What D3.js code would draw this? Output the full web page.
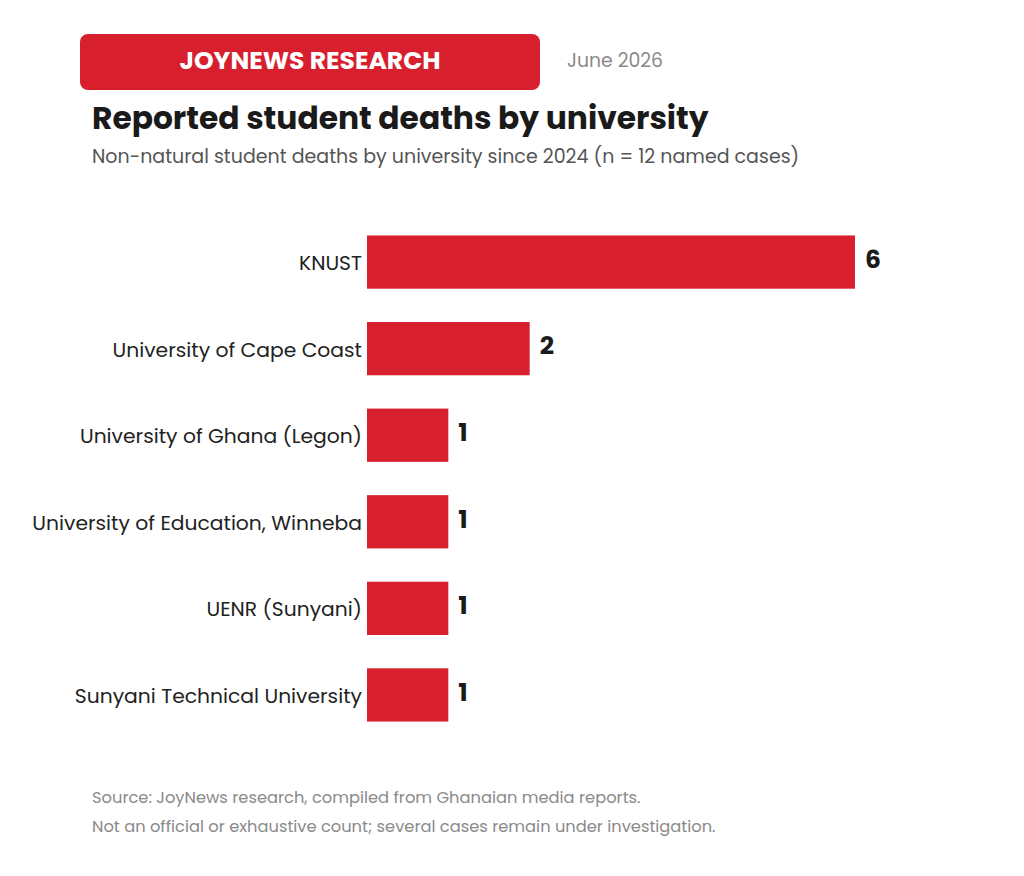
<!DOCTYPE html>
<html>
<head>
<meta charset="utf-8">
<script src="https://cdn.jsdelivr.net/npm/d3@7"></script>
<style>
    body { margin: 0; background: #ffffff; }
    svg { display: block; font-family: Poppins, "Open Sans", sans-serif; }
</style>
</head>
<body>
<div id="chart"></div>
<script>
const universities = [
    "KNUST",
    "University of Cape Coast",
    "University of Ghana (Legon)",
    "University of Education, Winneba",
    "UENR (Sunyani)",
    "Sunyani Technical University"
];
const deaths = [6, 2, 1, 1, 1, 1];

const brand = "JOYNEWS RESEARCH";
const dateLabel = "June 2026";
const title = "Reported student deaths by university";
const subtitle = "Non-natural student deaths by university since 2024 (n = 12 named cases)";
const notes = [
    "Source: JoyNews research, compiled from Ghanaian media reports.",
    "Not an official or exhaustive count; several cases remain under investigation."
];

const width = 1024, height = 876;
const red = "#d71f2e";

const svg = d3.select("#chart")
    .append("svg")
    .attr("width", width)
    .attr("height", height);

// header pill
svg.append("rect")
    .attr("x", 80).attr("y", 34)
    .attr("width", 460).attr("height", 56)
    .attr("rx", 8)
    .attr("fill", red);

svg.append("text")
    .attr("x", 310).attr("y", 69)
    .attr("text-anchor", "middle")
    .attr("fill", "#fff")
    .attr("font-size", 25)
    .attr("font-weight", 700)
    .text(brand);

svg.append("text")
    .attr("x", 567).attr("y", 67)
    .attr("fill", "#8a8a8a")
    .attr("font-size", 18.8)
    .text(dateLabel);

svg.append("text")
    .attr("x", 92).attr("y", 129)
    .attr("fill", "#1a1a1a")
    .attr("font-size", 31.3)
    .attr("font-weight", 700)
    .text(title);

svg.append("text")
    .attr("x", 92).attr("y", 163)
    .attr("fill", "#555")
    .attr("font-size", 19)
    .text(subtitle);

// =============================
// BARS
// =============================
const x = d3.scaleLinear()
    .domain([0, 6])
    .range([367, 855]);

const y = d3.scaleBand()
    .domain(universities)
    .range([219, 738])
    .paddingInner(0.385)
    .paddingOuter(0.19);

const rows = universities.map((u, i) => ({ name: u, value: deaths[i] }));

svg.append("g")
    .selectAll("rect")
    .data(rows)
    .join("rect")
    .attr("x", x(0))
    .attr("y", d => y(d.name))
    .attr("width", d => x(d.value) - x(0))
    .attr("height", y.bandwidth())
    .attr("fill", red);

svg.append("g")
    .selectAll("text")
    .data(rows)
    .join("text")
    .attr("x", x(0) - 5)
    .attr("y", d => y(d.name) + y.bandwidth() / 2 + 1)
    .attr("dy", "0.35em")
    .attr("text-anchor", "end")
    .attr("fill", "#222")
    .attr("font-size", 20.3)
    .text(d => d.name);

svg.append("g")
    .selectAll("text")
    .data(rows)
    .join("text")
    .attr("x", d => x(d.value) + 10)
    .attr("y", d => y(d.name) + y.bandwidth() / 2 - 3)
    .attr("dy", "0.35em")
    .attr("fill", "#1a1a1a")
    .attr("font-size", 25)
    .attr("font-weight", 700)
    .text(d => d.value);

// footer notes
svg.append("g")
    .selectAll("text")
    .data(notes)
    .join("text")
    .attr("x", 92)
    .attr("y", (d, i) => 803 + i * 29)
    .attr("fill", "#8a8a8a")
    .attr("font-size", 16.3)
    .text(d => d);
</script>
</body>
</html>
